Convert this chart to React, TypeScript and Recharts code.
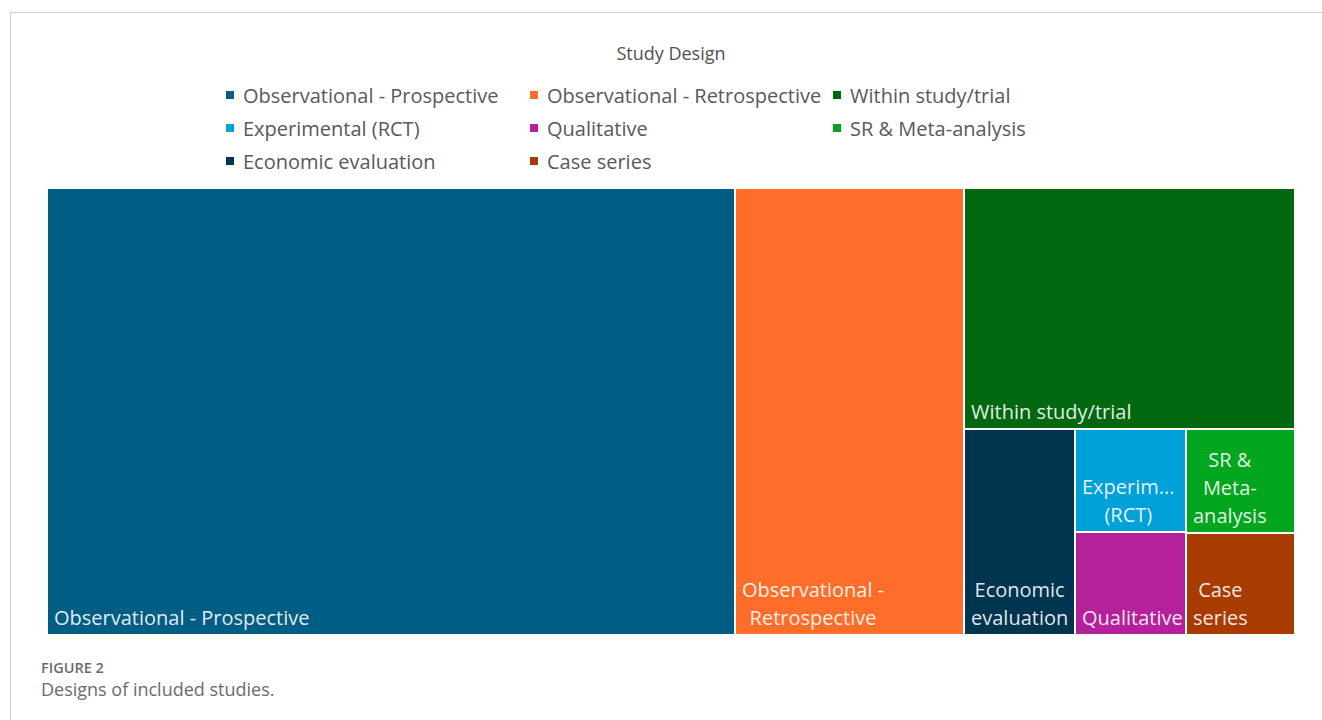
import { Treemap } from 'recharts';

// study design categories, in the order the treemap lays them out
const designs = [
  'Observational - Prospective',
  'Observational - Retrospective',
  'Within study/trial',
  'Economic evaluation',
  'Experimental (RCT)',
  'Qualitative',
  'SR & Meta-analysis',
  'Case series',
];
const studyCounts = [27, 9, 7, 2, 1, 1, 1, 1];
const designColors = ['#005E84', '#FF6D2B', '#02680F', '#003550', '#00A0D8', '#B4219B', '#00A61E', '#A83B00'];
const cellLabels = [
  ['Observational - Prospective'],
  ['Observational -', 'Retrospective'],
  ['Within study/trial'],
  ['Economic', 'evaluation'],
  ['Experim...', '(RCT)'],
  ['Qualitative'],
  ['SR &', 'Meta-', 'analysis'],
  ['Case', 'series'],
];
// legend reads row by row, three columns
const legendOrder = [0, 1, 2, 4, 5, 6, 3, 7];

const FONT = '"Open Sans", "Noto Sans", sans-serif';
const TEXT = '#595959';

const treeData = designs.map((name, i) => ({ name, size: studyCounts[i] }));

function DesignCell(props) {
  const { x, y, width, height, depth, name } = props;
  if (depth !== 1) return null;
  const i = designs.indexOf(name);
  return (
    <g>
      <rect x={x} y={y} width={width} height={height} fill={designColors[i]} stroke="#fff" strokeWidth={2} />
      <foreignObject x={x + 1} y={y + 1} width={Math.max(width - 2, 0)} height={Math.max(height - 2, 0)}>
        <div
          style={{
            width: '100%',
            height: '100%',
            display: 'flex',
            flexDirection: 'column',
            justifyContent: 'flex-end',
            alignItems: 'flex-start',
            boxSizing: 'border-box',
            padding: '0 2px 2px 6px',
            fontFamily: FONT,
            fontSize: 20,
            lineHeight: '28px',
            color: 'rgba(255,255,255,0.9)',
          }}
        >
          <div style={{ display: 'inline-block', textAlign: 'center', whiteSpace: 'nowrap' }}>
            {(cellLabels[i] || []).map((line) => (
              <div key={line}>{line}</div>
            ))}
          </div>
        </div>
      </foreignObject>
    </g>
  );
}

export default function App() {
  const legendCols = [226, 530, 833];
  return (
    <div style={{ position: 'absolute', left: 0, top: 0, width: 1322, height: 720, background: '#fff', fontFamily: FONT }}>
      <div style={{ position: 'absolute', left: 10, top: 12, width: 1312, height: 708, borderTop: '1px solid #cfcfcf', borderLeft: '1px solid #cfcfcf' }} />

      <div style={{ position: 'absolute', left: 0, width: 1342, top: 41, lineHeight: '24px', textAlign: 'center', fontSize: 18, color: '#505050' }}>
        Study Design
      </div>

      {legendOrder.map((d, k) => {
        const col = k % 3;
        const row = Math.floor(k / 3);
        return (
          <div
            key={designs[d]}
            style={{
              position: 'absolute',
              left: legendCols[col],
              top: 95 + row * 33 - 14,
              height: 28,
              display: 'flex',
              alignItems: 'center',
              whiteSpace: 'nowrap',
              fontSize: 20,
              color: TEXT,
            }}
          >
            <span style={{ width: 8, height: 8, background: designColors[d], marginRight: 9, display: 'inline-block' }} />
            {designs[d]}
          </div>
        );
      })}

      <div style={{ position: 'absolute', left: 47, top: 188 }}>
        <Treemap
          width={1248}
          height={447}
          data={treeData}
          dataKey="size"
          nameKey="name"
          aspectRatio={1}
          isAnimationActive={false}
          content={<DesignCell />}
        />
      </div>

      <div style={{ position: 'absolute', left: 41, top: 660, lineHeight: '16px', fontSize: 14.5, fontWeight: 600, color: '#6b6b6b' }}>FIGURE 2</div>
      <div style={{ position: 'absolute', left: 41, top: 679, lineHeight: '20px', fontSize: 18, color: '#6b6b6b' }}>Designs of included studies.</div>
    </div>
  );
}
